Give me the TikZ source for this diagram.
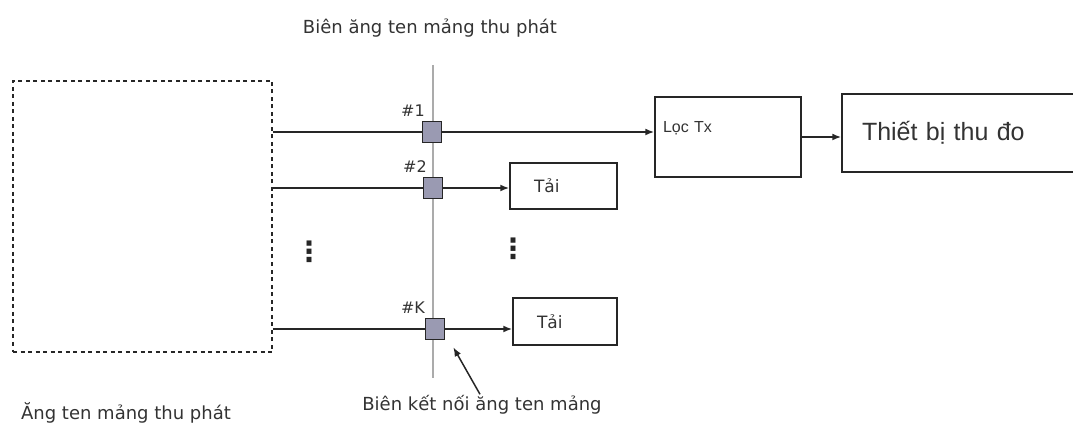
\documentclass[tikz,border=0pt]{standalone}
\usepackage{fontspec}
\setmainfont{DejaVu Sans}
\newfontfamily\arialfont{Liberation Sans}
\usetikzlibrary{arrows.meta,positioning}
\definecolor{lineCol}{HTML}{262626}
\definecolor{portCol}{HTML}{9A9AB2}
\definecolor{edgeCol}{HTML}{ABABAB}
\definecolor{txtCol}{HTML}{333333}
\tikzset{
  antbox/.style={draw=lineCol, dash pattern=on 4pt off 3.5pt, line width=1.8pt, inner sep=0pt},
  blk/.style={draw=lineCol, line width=1.5pt, inner sep=0pt, text=txtCol},
  port/.style={draw=lineCol, fill=portCol, line width=1.7pt, minimum width=19pt,
               minimum height=21pt, inner sep=0pt},
  feed/.style={lineCol, line width=1.7pt},                         % antenna element to port
  sig/.style={-{Latex[length=9pt,width=7pt]}, lineCol, line width=1.7pt}, % signal path
  edge/.style={edgeCol, line width=1.6pt},
  lbl/.style={font=\fontsize{18}{21}\selectfont, text=txtCol, inner sep=1pt},
  num/.style={font=\fontsize{16}{19}\selectfont, text=txtCol, inner sep=1pt},
  dotcol/.style={font=\fontsize{28}{30}\selectfont\bfseries, text=lineCol, inner sep=0pt},
}

\begin{document}
\begin{tikzpicture}[x=1pt,y=-1pt]
  \clip (0,0) rectangle (1073,430);
  \def\xe{433}
  % antenna array and its boundary
  \node[antbox, minimum width=259pt, minimum height=271pt] (ant) at (142.5,216.5) {};
  \node[lbl] (antlbl) at (126,413) {Ăng ten mảng thu phát};
  \node[lbl] (toplbl) at (430,28) {Biên ăng ten mảng thu phát};
  \draw[edge] (\xe,65) -- (\xe,378);

  % ports
  \node[port] (pt1) at (432,132) {};
  \node[port] (pt2) at (433,188) {};
  \node[port] (ptK) at (435,329) {};
  \node[num] (n1) at (413,111) {\#1};
  \node[num] (n2) at (415,167) {\#2};
  \node[num] (nK) at (413,308) {\#K};

  % blocks
  \node[blk, minimum width=146pt, minimum height=80pt, text width=130pt, inner xsep=8pt,
        align=left, text height=12pt, text depth=20pt, font=\arialfont\fontsize{16}{19}\selectfont]
        (loc) at (728,137) {Lọc Tx};
  \node[blk, minimum width=248pt, minimum height=78pt, text width=208pt, inner xsep=20pt,
        align=left, font=\arialfont\fontsize{25}{30}\selectfont]
        (rx) at (966,133) {Thiết bị thu đo};
  \node[blk, minimum width=107pt, minimum height=46pt, text width=59pt, inner xsep=24pt,
        align=left, font=\fontsize{17}{20}\selectfont] (ld2) at (563.5,186) {Tải};
  \node[blk, minimum width=104pt, minimum height=47pt, text width=56pt, inner xsep=24pt,
        align=left, font=\fontsize{17}{20}\selectfont] (ldK) at (565,321.5) {Tải};

  \node[dotcol] (d1) at (309,252) {⋮};
  \node[dotcol] (d2) at (513,249) {⋮};

  % connections
  \draw[feed] (ant.east |- pt1) -- (pt1.west);
  \draw[feed] (ant.east |- pt2) -- (pt2.west);
  \draw[feed] (ant.east |- ptK) -- (ptK.west);
  \draw[sig] (pt1.east) -- (pt1.east -| loc.west);
  \draw[sig] (pt2.east) -- (pt2.east -| ld2.west);
  \draw[sig] (ptK.east) -- (ptK.east -| ldK.west);
  \draw[sig] (loc.east) -- (loc.east -| rx.west);

  \node[lbl] (kn) at (482,405) {Biên kết nối ăng ten mảng};
  \draw[sig, line width=1.5pt] ([xshift=-2pt]kn.north) -- ([shift={(8,7)}]ptK.south east);
\end{tikzpicture}
\end{document}
